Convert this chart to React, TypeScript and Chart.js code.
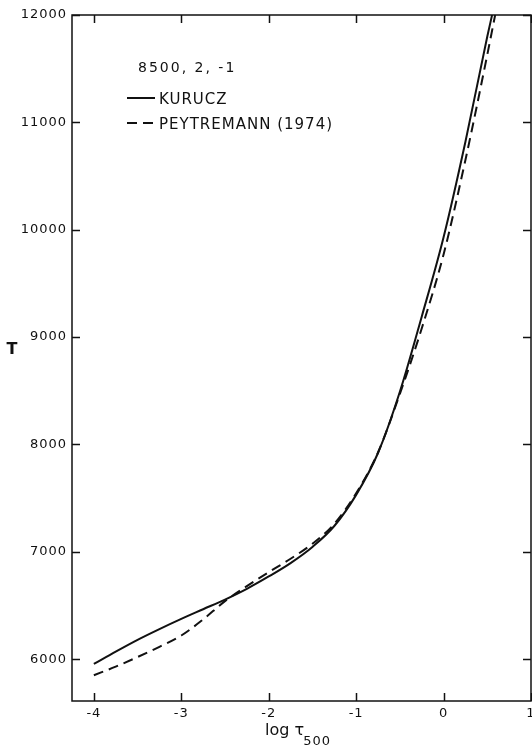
import React, { useEffect, useRef } from "react";
import { Chart, registerables } from "chart.js";

Chart.register(...registerables);

const logTau = [-4.0, -3.75, -3.5, -3.25, -3.0, -2.75, -2.5, -2.25, -2.0, -1.75, -1.5, -1.25, -1.0, -0.75, -0.5, -0.25, 0.0, 0.25, 0.5];
const kuruczT = [5955, 6070, 6180, 6280, 6375, 6465, 6555, 6655, 6770, 6895, 7045, 7240, 7530, 7920, 8490, 9190, 9930, 10820, 11800];
const kuruczTopX = 0.555;
const peytremannT = [5850, 5930, 6020, 6115, 6220, 6370, 6540, 6680, 6810, 6935, 7075, 7260, 7545, 7925, 8470, 9080, 9770, 10650, 11630];
const peytremannTopX = 0.59;
const topT = 12000;

const xTickValues = [-4, -3, -2, -1, 0, 1];
const yTickValues = [6000, 7000, 8000, 9000, 10000, 11000, 12000];

const modelLabel = "8500, 2, -1";
const kuruczLabel = "KURUCZ";
const peytremannLabel = "PEYTREMANN (1974)";

const INK = "#111111";
const FONT = "'DejaVu Sans', sans-serif";

const framePlugin = {
  id: "frameAndText",
  beforeDraw(chart: any) {
    chart.ctx.letterSpacing = "1px";
  },
  afterDraw(chart: any) {
    const ctx = chart.ctx;
    const { left, right, top, bottom } = chart.chartArea;
    const xs = chart.scales.x;
    const ys = chart.scales.y;
    ctx.save();
    ctx.letterSpacing = "0px";
    ctx.strokeStyle = INK;
    ctx.lineWidth = 1.5;
    ctx.setLineDash([]);
    ctx.strokeRect(left, top, right - left, bottom - top);
    const tl = 8;
    ctx.beginPath();
    xTickValues.forEach((v) => {
      const px = Math.round(xs.getPixelForValue(v)) + 0.5;
      ctx.moveTo(px, bottom);
      ctx.lineTo(px, bottom - tl);
      ctx.moveTo(px, top);
      ctx.lineTo(px, top + tl);
    });
    yTickValues.forEach((v) => {
      const py = Math.round(ys.getPixelForValue(v)) + 0.5;
      ctx.moveTo(left, py);
      ctx.lineTo(left + tl, py);
      ctx.moveTo(right, py);
      ctx.lineTo(right - tl, py);
    });
    ctx.stroke();

    // Legend block
    ctx.fillStyle = INK;
    ctx.textBaseline = "alphabetic";
    ctx.textAlign = "left";
    ctx.font = `14px ${FONT}`;
    ctx.letterSpacing = "2px";
    ctx.fillText(modelLabel, left + 66, top + 57);
    const ds = chart.data.datasets;
    const rows = [top + 83, top + 108];
    ds.forEach((d: any, i: number) => {
      const y = rows[i];
      ctx.beginPath();
      ctx.lineWidth = 2;
      ctx.setLineDash(d.borderDash || []);
      ctx.moveTo(left + 55, y);
      ctx.lineTo(left + 83, y);
      ctx.stroke();
      ctx.setLineDash([]);
      ctx.font = `15px ${FONT}`;
      ctx.letterSpacing = "1px";
      ctx.fillText(d.label, left + 87, y + 5.5);
    });

    // Y title
    ctx.letterSpacing = "0px";
    ctx.font = `bold 16px ${FONT}`;
    ctx.textAlign = "center";
    ctx.fillText("T", left - 60, (top + bottom) / 2 - 4);

    // X title: log τ_500
    const cx = (left + right) / 2 - 3;
    const mainFont = `16px ${FONT}`;
    const subFont = `13px ${FONT}`;
    ctx.textAlign = "left";
    ctx.font = mainFont;
    ctx.letterSpacing = "0px";
    const main = "log τ";
    const wMain = ctx.measureText(main).width;
    ctx.font = subFont;
    ctx.letterSpacing = "1px";
    const wSub = ctx.measureText("500").width;
    const x0 = cx - (wMain + wSub) / 2;
    ctx.font = mainFont;
    ctx.letterSpacing = "0px";
    ctx.fillText(main, x0, bottom + 34);
    ctx.font = subFont;
    ctx.letterSpacing = "1px";
    ctx.fillText("500", x0 + wMain - 1, bottom + 44);
    ctx.restore();
  },
};

export default function App() {
  const ref = useRef<HTMLCanvasElement | null>(null);
  useEffect(() => {
    if (!ref.current) return;
    const kData = logTau.map((x, i) => ({ x, y: kuruczT[i] }));
    kData.push({ x: kuruczTopX, y: topT });
    const pData = logTau.map((x, i) => ({ x, y: peytremannT[i] }));
    pData.push({ x: peytremannTopX, y: topT });
    const chart = new Chart(ref.current, {
      type: "line",
      data: {
        datasets: [
          {
            label: kuruczLabel,
            data: kData,
            borderColor: INK,
            borderWidth: 2,
            pointRadius: 0,
            fill: false,
            cubicInterpolationMode: "monotone",
          },
          {
            label: peytremannLabel,
            data: pData,
            borderColor: INK,
            borderWidth: 2,
            borderDash: [10, 6],
            pointRadius: 0,
            fill: false,
            cubicInterpolationMode: "monotone",
          },
        ],
      },
      options: {
        animation: false,
        responsive: true,
        maintainAspectRatio: false,
        layout: { padding: { top: 15, right: 1, left: 0, bottom: 0 } },
        plugins: { legend: { display: false }, tooltip: { enabled: false } },
        scales: {
          x: {
            type: "linear",
            min: -4.25,
            max: 1,
            grid: { display: false, drawTicks: false },
            border: { display: false },
            afterBuildTicks: (s: any) => {
              s.ticks = xTickValues.map((v) => ({ value: v }));
            },
            afterFit: (s: any) => {
              s.height = 45;
              s.paddingLeft = 0;
              s.paddingRight = 0;
            },
            ticks: {
              color: INK,
              font: { family: FONT, size: 13 },
              padding: 5,
              maxRotation: 0,
              autoSkip: false,
              callback: (v: any) => String(v),
            },
          },
          y: {
            type: "linear",
            min: 5610,
            max: 12000,
            grid: { display: false, drawTicks: false },
            border: { display: false },
            afterBuildTicks: (s: any) => {
              s.ticks = yTickValues.map((v) => ({ value: v }));
            },
            afterFit: (s: any) => {
              s.width = 72;
              s.paddingTop = 0;
              s.paddingBottom = 0;
            },
            ticks: {
              color: INK,
              font: { family: FONT, size: 13 },
              padding: 5,
              autoSkip: false,
              callback: (v: any) => String(v),
            },
          },
        },
      },
      plugins: [framePlugin],
    });
    return () => chart.destroy();
  }, []);
  return (
    <div style={{ position: "absolute", left: 0, top: 0, width: 532, height: 746, background: "#fff" }}>
      <canvas ref={ref} />
    </div>
  );
}
